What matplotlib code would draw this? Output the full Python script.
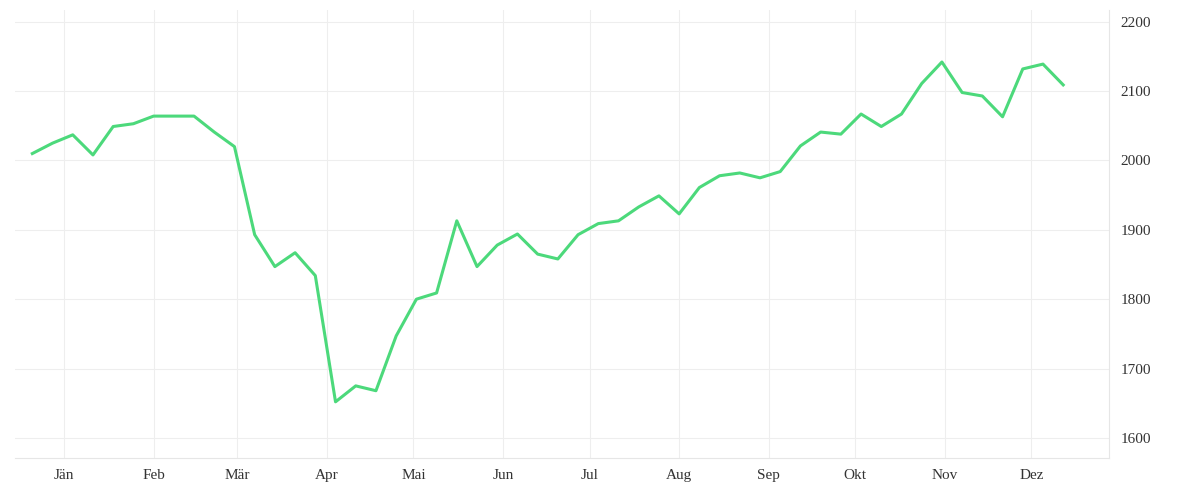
import matplotlib.pyplot as plt
import matplotlib.dates as mdates
import pandas as pd

start_date = "2019-12-21"
values = [
    2010, 2025, 2037, 2008, 2049, 2053, 2064, 2064, 2064, 2041, 2020,
    1893, 1847, 1867, 1834, 1652, 1675, 1668, 1747, 1800, 1809, 1913,
    1847, 1878, 1894, 1865, 1858, 1893, 1909, 1913, 1933, 1949, 1923,
    1961, 1978, 1982, 1975, 1984, 2021, 2041, 2038, 2067, 2049, 2067,
    2111, 2142, 2098, 2093, 2063, 2132, 2139, 2109,
]
month_labels = ["Jän", "Feb", "Mär", "Apr", "Mai", "Jun",
                "Jul", "Aug", "Sep", "Okt", "Nov", "Dez"]
y_ticks = [1600, 1700, 1800, 1900, 2000, 2100, 2200]

dates = pd.date_range(start_date, periods=len(values), freq="7D")
month_ticks = pd.date_range("2020-01-01", periods=12, freq="MS")

plt.rcParams["font.family"] = ["Liberation Serif", "DejaVu Serif"]
fig = plt.figure(figsize=(12, 5), dpi=100)
ax = fig.add_axes([0.0125, 0.084, 0.912, 0.896])

ax.plot(dates, values, color="#4cd97b", linewidth=2.2)

ax.set_xlim(pd.Timestamp("2019-12-15"), pd.Timestamp("2020-12-28"))
ax.set_ylim(1571, 2217)
ax.set_xticks(month_ticks)
ax.set_xticklabels(month_labels)
ax.set_yticks(y_ticks)
ax.yaxis.tick_right()
ax.grid(True, color="#eeeeee", linewidth=0.8)
for side in ["top", "left"]:
    ax.spines[side].set_visible(False)
for side in ["bottom", "right"]:
    ax.spines[side].set_color("#e6e6e6")
ax.tick_params(length=0, labelsize=11, colors="#333333", pad=8)

fig.savefig("out.png", dpi=100)
